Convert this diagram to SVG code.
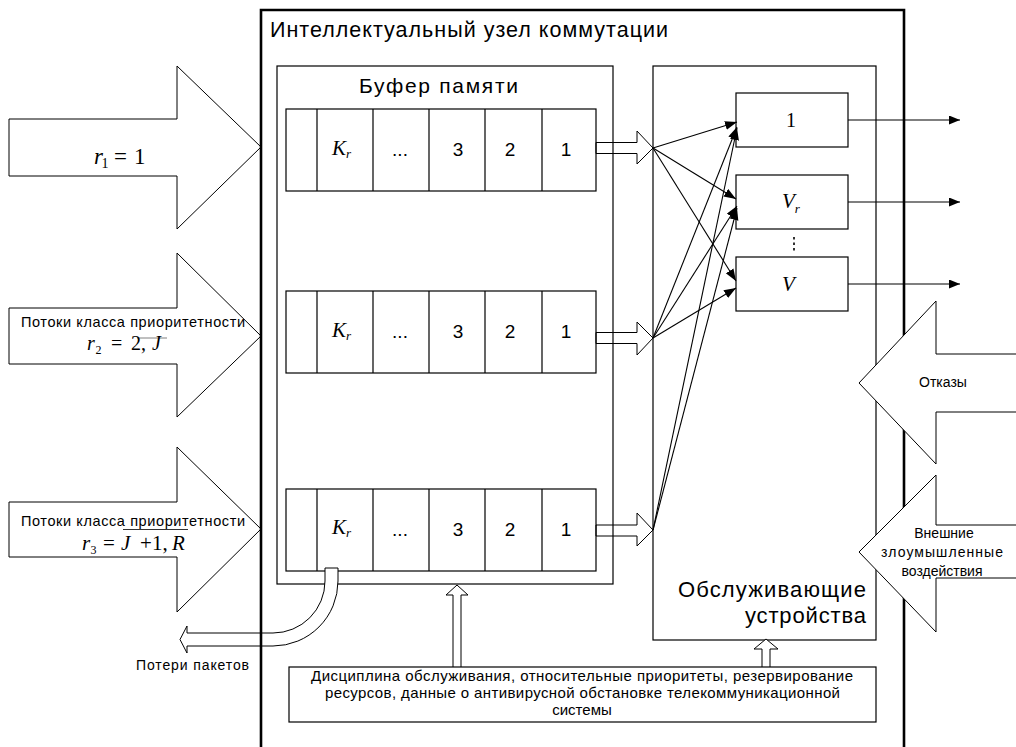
<svg xmlns="http://www.w3.org/2000/svg" width="1016" height="747" viewBox="0 0 1016 747">
<defs>
<style>
.ln{fill:none;stroke:#000;stroke-width:1.2}
.hol{fill:#fff;stroke:#000;stroke-width:1}
.holn{fill:none;stroke:#000;stroke-width:1}
.frame{fill:none;stroke:#000;stroke-width:2.6}
.sans{font-family:"Liberation Sans",Arial,sans-serif;fill:#000}
.serif{font-family:"Liberation Serif","Times New Roman",serif;fill:#000}
.it{font-style:italic}
.fan{stroke:#000;stroke-width:1.1;fill:none;marker-end:url(#ah)}
.out{stroke:#000;stroke-width:1.1;fill:none;marker-end:url(#ah2)}
.sq{stroke:#808080;stroke-width:1}
</style>
<marker id="ah" markerUnits="userSpaceOnUse" markerWidth="13" markerHeight="10" refX="12" refY="4.5" orient="auto"><path d="M0,0 L12,4.5 L0,9 Z" fill="#000"/></marker>
<marker id="ah2" markerUnits="userSpaceOnUse" markerWidth="12" markerHeight="10" refX="11" refY="4.5" orient="auto"><path d="M0,0 L11,4.5 L0,9 Z" fill="#000"/></marker>
</defs>
<rect width="1016" height="747" fill="#fff"/>

<g id="input-1">
<polygon class="hol" points="9,119 177,119 177,66 261,147 177,229 177,176 9,176"/>
<text class="serif" font-size="23" y="164"><tspan class="it" x="94">r</tspan><tspan x="101.5" y="168" font-size="14">1</tspan><tspan x="114" y="164">=</tspan><tspan x="134">1</tspan></text>
</g>
<g id="input-2">
<polygon class="hol" points="9,308 177,308 177,253 261,336 177,417 177,364 9,364"/>
<text class="sans" x="21" y="327" font-size="14.5" textLength="224" lengthAdjust="spacing">Потоки класса приоритетности</text>
<line class="sq" x1="137" y1="338" x2="167" y2="338"/>
<text class="serif" font-size="20" y="350"><tspan class="it" x="87">r</tspan><tspan x="95.5" y="354" font-size="12">2</tspan><tspan x="111" y="350">=</tspan><tspan x="131">2,</tspan><tspan class="it" x="152">J</tspan></text>
</g>
<g id="input-3">
<polygon class="hol" points="9,502 177,502 177,447 261,529 177,612 177,557 9,557"/>
<text class="sans" x="21" y="526" font-size="14.5" textLength="224" lengthAdjust="spacing">Потоки класса приоритетности</text>
<line x1="123" y1="529.5" x2="188" y2="529.5" stroke="#333" stroke-width="1"/>
<text class="serif" font-size="21" y="550"><tspan class="it" x="82">r</tspan><tspan x="90.5" y="554" font-size="12">3</tspan><tspan x="103" y="550">=</tspan><tspan class="it" x="121">J</tspan><tspan x="140">+</tspan><tspan x="152">1,</tspan><tspan class="it" x="172">R</tspan></text>
</g>

<g id="buffer">
<rect class="ln" x="277" y="66" width="336" height="518"/>
<text class="sans" x="359" y="93" font-size="21" textLength="159" lengthAdjust="spacing">Буфер памяти</text>
</g>
<g id="row-1">
<rect class="ln" x="286" y="109" width="310" height="82"/>
<path class="ln" d="M317,109V191M373,109V191M429,109V191M485,109V191M542,109V191"/>
<text class="serif it" x="332" y="155" font-size="21">K<tspan font-size="13" dy="3">r</tspan></text>
<text class="sans" x="400" y="155.5" font-size="19" text-anchor="middle">...</text>
<text class="sans" x="458" y="155.5" font-size="19" text-anchor="middle">3</text>
<text class="sans" x="510" y="155.5" font-size="19" text-anchor="middle">2</text>
<text class="sans" x="566" y="155.5" font-size="19" text-anchor="middle">1</text>
</g>
<g id="row-2">
<rect class="ln" x="286" y="291" width="310" height="82"/>
<path class="ln" d="M317,291V373M373,291V373M429,291V373M485,291V373M542,291V373"/>
<text class="serif it" x="332" y="337" font-size="21">K<tspan font-size="13" dy="3">r</tspan></text>
<text class="sans" x="400" y="338" font-size="19" text-anchor="middle">...</text>
<text class="sans" x="458" y="338" font-size="19" text-anchor="middle">3</text>
<text class="sans" x="510" y="338" font-size="19" text-anchor="middle">2</text>
<text class="sans" x="566" y="338" font-size="19" text-anchor="middle">1</text>
</g>
<g id="row-3">
<rect class="ln" x="286" y="489" width="310" height="82"/>
<path class="ln" d="M317,489V571M373,489V571M429,489V571M485,489V571M542,489V571"/>
<text class="serif it" x="332" y="534" font-size="21">K<tspan font-size="13" dy="3">r</tspan></text>
<text class="sans" x="400" y="535.5" font-size="19" text-anchor="middle">...</text>
<text class="sans" x="458" y="535.5" font-size="19" text-anchor="middle">3</text>
<text class="sans" x="510" y="535.5" font-size="19" text-anchor="middle">2</text>
<text class="sans" x="566" y="535.5" font-size="19" text-anchor="middle">1</text>
</g>

<g id="servers">
<rect class="ln" x="653" y="66" width="223" height="574"/>
<text class="sans" x="678" y="597" font-size="22" textLength="188" lengthAdjust="spacing">Обслуживающие</text>
<text class="sans" x="745" y="623" font-size="22" textLength="121" lengthAdjust="spacing">устройства</text>
</g>
<g id="server-1">
<rect class="ln" x="736" y="93" width="112" height="54"/>
<text class="serif" x="791" y="127" font-size="20" text-anchor="middle">1</text>
</g>
<g id="server-vr">
<rect class="ln" x="736" y="175" width="112" height="54"/>
<text class="serif it" x="782" y="208" font-size="21">V<tspan font-size="13" dy="5">r</tspan></text>
</g>
<line x1="794" y1="237" x2="794" y2="253" stroke="#000" stroke-width="1.6" stroke-dasharray="2.5,3"/>
<g id="server-v">
<rect class="ln" x="736" y="257" width="112" height="54"/>
<text class="serif it" x="782" y="291" font-size="21">V</text>
</g>

<g id="connectors">
<polygon class="holn" points="596,142.5 637,142.5 637,131 653,148 637,164 637,153.5 596,153.5"/>
<polygon class="holn" points="596,332.5 637,332.5 637,322 653,338 637,355 637,343.5 596,343.5"/>
<polygon class="holn" points="596,525 637,525 637,513 653,530 637,546 637,536 596,536"/>
<line class="fan" x1="653" y1="148" x2="737" y2="122"/>
<line class="fan" x1="653" y1="148" x2="736" y2="199"/>
<line class="fan" x1="653" y1="148" x2="736" y2="281"/>
<line class="fan" x1="653" y1="338" x2="737" y2="127"/>
<line class="fan" x1="653" y1="338" x2="737" y2="206"/>
<line class="fan" x1="653" y1="338" x2="736" y2="288"/>
<line class="fan" x1="653" y1="530" x2="737" y2="128"/>
<line class="fan" x1="653" y1="530" x2="737" y2="208"/>
<line class="out" x1="848" y1="120" x2="960" y2="120"/>
<line class="out" x1="848" y1="202" x2="960" y2="202"/>
<line class="out" x1="848" y1="284" x2="960" y2="284"/>
<path class="hol" d="M453,667 V595 H446 L457,585 L468,595 H461 V667"/>
<path class="hol" d="M762,667 V649 H754 L766,639 L778,649 H770 V667"/>
</g>

<g id="loss">
<path class="hol" d="M325,568 H338 V581 A65,65 0 0 1 273,646 H187 V653 L180,639.5 L187,626 V633 H273 A52,52 0 0 0 325,581 Z"/>
<text class="sans" x="136" y="670" font-size="14" textLength="113" lengthAdjust="spacing">Потери пакетов</text>
</g>

<g id="node">
<path class="frame" d="M261,750 V10 H904 V750"/>
<text class="sans" x="270" y="37" font-size="21.5" textLength="398" lengthAdjust="spacing">Интеллектуальный узел коммутации</text>
</g>

<g id="failures">
<polygon class="hol" points="1022,354 936,354 936,301 859,383 936,464 936,412 1022,412"/>
<text class="sans" x="943" y="387" font-size="14" text-anchor="middle">Отказы</text>
</g>
<g id="attacks">
<polygon class="hol" points="1022,525 936,525 936,475 859,552 936,632 936,578 1022,578"/>
<text class="sans" x="944" y="538" font-size="14" text-anchor="middle">Внешние</text>
<text class="sans" x="942" y="557" font-size="14" text-anchor="middle" textLength="122" lengthAdjust="spacing">злоумышленные</text>
<text class="sans" x="942" y="576" font-size="14" text-anchor="middle">воздействия</text>
</g>

<g id="control">
<rect class="ln" x="289" y="667" width="587" height="55" fill="#fff"/>
<text class="sans" x="582" y="681" font-size="15" text-anchor="middle" textLength="542" lengthAdjust="spacing">Дисциплина обслуживания, относительные приоритеты, резервирование</text>
<text class="sans" x="582.5" y="698" font-size="15" text-anchor="middle" textLength="515" lengthAdjust="spacing">ресурсов, данные о антивирусной обстановке телекоммуникационной</text>
<text class="sans" x="582" y="715" font-size="15" text-anchor="middle">системы</text>
</g>
</svg>
